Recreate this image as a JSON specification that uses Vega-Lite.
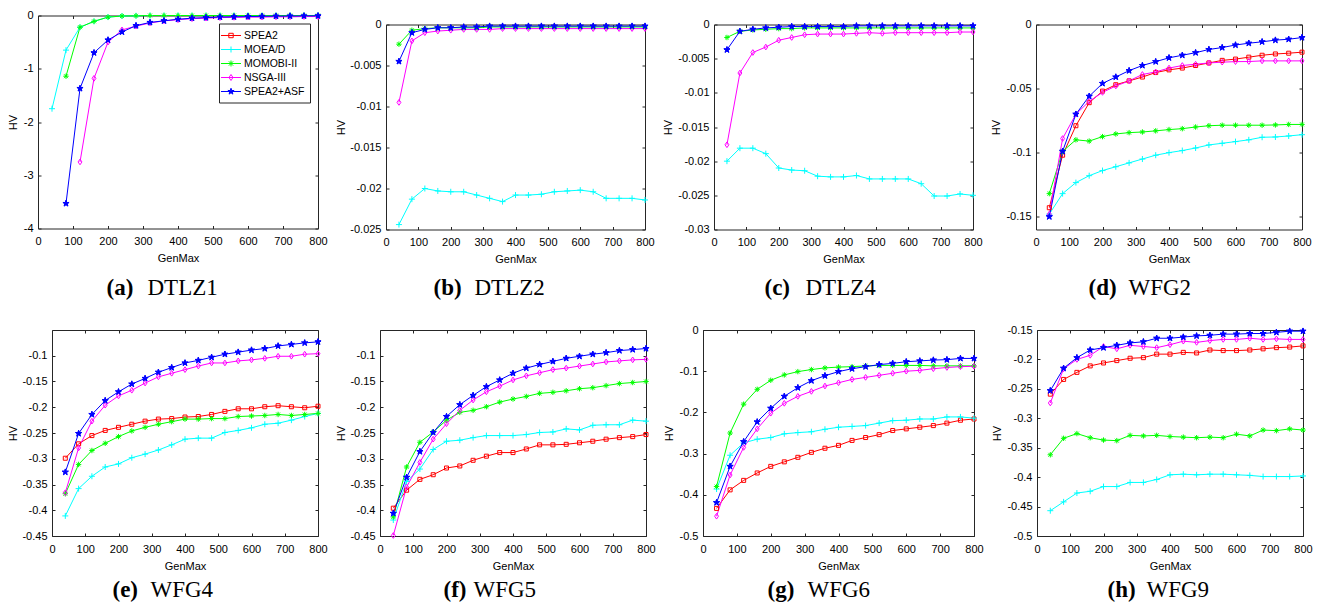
{
"$schema":"https://vega.github.io/schema/vega-lite/v6.json",
"background":"white",
"padding":{"left":7,"top":9.5,"right":0,"bottom":0},
"datasets":{"hv":[
{"p":"a","s":"MOEA/D","x":40,"y":-1.75},{"p":"a","s":"MOEA/D","x":80,"y":-0.65},{"p":"a","s":"MOEA/D","x":120,"y":-0.22},{"p":"a","s":"MOEA/D","x":160,"y":-0.11},{"p":"a","s":"MOEA/D","x":200,"y":-0.03},{"p":"a","s":"MOEA/D","x":240,"y":-0.01},{"p":"a","s":"MOEA/D","x":280,"y":-0.005},{"p":"a","s":"MOEA/D","x":320,"y":0},{"p":"a","s":"MOEA/D","x":360,"y":0},{"p":"a","s":"MOEA/D","x":400,"y":0},{"p":"a","s":"MOEA/D","x":440,"y":0},{"p":"a","s":"MOEA/D","x":480,"y":0},{"p":"a","s":"MOEA/D","x":520,"y":0},{"p":"a","s":"MOEA/D","x":560,"y":0},{"p":"a","s":"MOEA/D","x":600,"y":0},{"p":"a","s":"MOEA/D","x":640,"y":0},{"p":"a","s":"MOEA/D","x":680,"y":0},{"p":"a","s":"MOEA/D","x":720,"y":0},{"p":"a","s":"MOEA/D","x":760,"y":0},{"p":"a","s":"MOEA/D","x":800,"y":0},
{"p":"a","s":"MOMOBI-II","x":80,"y":-1.14},{"p":"a","s":"MOMOBI-II","x":120,"y":-0.22},{"p":"a","s":"MOMOBI-II","x":160,"y":-0.11},{"p":"a","s":"MOMOBI-II","x":200,"y":-0.03},{"p":"a","s":"MOMOBI-II","x":240,"y":-0.01},{"p":"a","s":"MOMOBI-II","x":280,"y":-0.005},{"p":"a","s":"MOMOBI-II","x":320,"y":0},{"p":"a","s":"MOMOBI-II","x":360,"y":0},{"p":"a","s":"MOMOBI-II","x":400,"y":0},{"p":"a","s":"MOMOBI-II","x":440,"y":0},{"p":"a","s":"MOMOBI-II","x":480,"y":0},{"p":"a","s":"MOMOBI-II","x":520,"y":0},{"p":"a","s":"MOMOBI-II","x":560,"y":0},{"p":"a","s":"MOMOBI-II","x":600,"y":0},{"p":"a","s":"MOMOBI-II","x":640,"y":0},{"p":"a","s":"MOMOBI-II","x":680,"y":0},{"p":"a","s":"MOMOBI-II","x":720,"y":0},{"p":"a","s":"MOMOBI-II","x":760,"y":0},{"p":"a","s":"MOMOBI-II","x":800,"y":0},
{"p":"a","s":"NSGA-III","x":120,"y":-2.75},{"p":"a","s":"NSGA-III","x":160,"y":-1.18},{"p":"a","s":"NSGA-III","x":200,"y":-0.5},{"p":"a","s":"NSGA-III","x":240,"y":-0.27},{"p":"a","s":"NSGA-III","x":280,"y":-0.2},{"p":"a","s":"NSGA-III","x":320,"y":-0.14},{"p":"a","s":"NSGA-III","x":360,"y":-0.1},{"p":"a","s":"NSGA-III","x":400,"y":-0.08},{"p":"a","s":"NSGA-III","x":440,"y":-0.06},{"p":"a","s":"NSGA-III","x":480,"y":-0.05},{"p":"a","s":"NSGA-III","x":520,"y":-0.04},{"p":"a","s":"NSGA-III","x":560,"y":-0.035},{"p":"a","s":"NSGA-III","x":600,"y":-0.03},{"p":"a","s":"NSGA-III","x":640,"y":-0.03},{"p":"a","s":"NSGA-III","x":680,"y":-0.025},{"p":"a","s":"NSGA-III","x":720,"y":-0.025},{"p":"a","s":"NSGA-III","x":760,"y":-0.02},{"p":"a","s":"NSGA-III","x":800,"y":-0.02},
{"p":"a","s":"SPEA2+ASF","x":80,"y":-3.53},{"p":"a","s":"SPEA2+ASF","x":120,"y":-1.37},{"p":"a","s":"SPEA2+ASF","x":160,"y":-0.7},{"p":"a","s":"SPEA2+ASF","x":200,"y":-0.46},{"p":"a","s":"SPEA2+ASF","x":240,"y":-0.31},{"p":"a","s":"SPEA2+ASF","x":280,"y":-0.19},{"p":"a","s":"SPEA2+ASF","x":320,"y":-0.13},{"p":"a","s":"SPEA2+ASF","x":360,"y":-0.1},{"p":"a","s":"SPEA2+ASF","x":400,"y":-0.07},{"p":"a","s":"SPEA2+ASF","x":440,"y":-0.05},{"p":"a","s":"SPEA2+ASF","x":480,"y":-0.04},{"p":"a","s":"SPEA2+ASF","x":520,"y":-0.03},{"p":"a","s":"SPEA2+ASF","x":560,"y":-0.025},{"p":"a","s":"SPEA2+ASF","x":600,"y":-0.02},{"p":"a","s":"SPEA2+ASF","x":640,"y":-0.015},{"p":"a","s":"SPEA2+ASF","x":680,"y":-0.012},{"p":"a","s":"SPEA2+ASF","x":720,"y":-0.01},{"p":"a","s":"SPEA2+ASF","x":760,"y":-0.008},{"p":"a","s":"SPEA2+ASF","x":800,"y":-0.006},
{"p":"b","s":"MOEA/D","x":40,"y":-0.0244},{"p":"b","s":"MOEA/D","x":80,"y":-0.0213},{"p":"b","s":"MOEA/D","x":120,"y":-0.02},{"p":"b","s":"MOEA/D","x":160,"y":-0.0203},{"p":"b","s":"MOEA/D","x":200,"y":-0.0204},{"p":"b","s":"MOEA/D","x":240,"y":-0.0204},{"p":"b","s":"MOEA/D","x":280,"y":-0.0208},{"p":"b","s":"MOEA/D","x":320,"y":-0.0212},{"p":"b","s":"MOEA/D","x":360,"y":-0.0216},{"p":"b","s":"MOEA/D","x":400,"y":-0.0208},{"p":"b","s":"MOEA/D","x":440,"y":-0.0208},{"p":"b","s":"MOEA/D","x":480,"y":-0.0207},{"p":"b","s":"MOEA/D","x":520,"y":-0.0204},{"p":"b","s":"MOEA/D","x":560,"y":-0.0203},{"p":"b","s":"MOEA/D","x":600,"y":-0.0202},{"p":"b","s":"MOEA/D","x":640,"y":-0.0204},{"p":"b","s":"MOEA/D","x":680,"y":-0.0212},{"p":"b","s":"MOEA/D","x":720,"y":-0.0212},{"p":"b","s":"MOEA/D","x":760,"y":-0.0212},{"p":"b","s":"MOEA/D","x":800,"y":-0.0214},
{"p":"b","s":"MOMOBI-II","x":40,"y":-0.0024},{"p":"b","s":"MOMOBI-II","x":80,"y":-0.0007},{"p":"b","s":"MOMOBI-II","x":120,"y":-0.0005},{"p":"b","s":"MOMOBI-II","x":160,"y":-0.0004},{"p":"b","s":"MOMOBI-II","x":200,"y":-0.0004},{"p":"b","s":"MOMOBI-II","x":240,"y":-0.0004},{"p":"b","s":"MOMOBI-II","x":280,"y":-0.0004},{"p":"b","s":"MOMOBI-II","x":320,"y":-0.0003},{"p":"b","s":"MOMOBI-II","x":360,"y":-0.0003},{"p":"b","s":"MOMOBI-II","x":400,"y":-0.0003},{"p":"b","s":"MOMOBI-II","x":440,"y":-0.0003},{"p":"b","s":"MOMOBI-II","x":480,"y":-0.0003},{"p":"b","s":"MOMOBI-II","x":520,"y":-0.0003},{"p":"b","s":"MOMOBI-II","x":560,"y":-0.0003},{"p":"b","s":"MOMOBI-II","x":600,"y":-0.0003},{"p":"b","s":"MOMOBI-II","x":640,"y":-0.0003},{"p":"b","s":"MOMOBI-II","x":680,"y":-0.0003},{"p":"b","s":"MOMOBI-II","x":720,"y":-0.0003},{"p":"b","s":"MOMOBI-II","x":760,"y":-0.0003},{"p":"b","s":"MOMOBI-II","x":800,"y":-0.0003},
{"p":"b","s":"NSGA-III","x":40,"y":-0.0095},{"p":"b","s":"NSGA-III","x":80,"y":-0.002},{"p":"b","s":"NSGA-III","x":120,"y":-0.001},{"p":"b","s":"NSGA-III","x":160,"y":-0.0008},{"p":"b","s":"NSGA-III","x":200,"y":-0.0007},{"p":"b","s":"NSGA-III","x":240,"y":-0.0006},{"p":"b","s":"NSGA-III","x":280,"y":-0.0006},{"p":"b","s":"NSGA-III","x":320,"y":-0.0006},{"p":"b","s":"NSGA-III","x":360,"y":-0.0005},{"p":"b","s":"NSGA-III","x":400,"y":-0.0005},{"p":"b","s":"NSGA-III","x":440,"y":-0.0005},{"p":"b","s":"NSGA-III","x":480,"y":-0.0005},{"p":"b","s":"NSGA-III","x":520,"y":-0.0005},{"p":"b","s":"NSGA-III","x":560,"y":-0.0005},{"p":"b","s":"NSGA-III","x":600,"y":-0.0005},{"p":"b","s":"NSGA-III","x":640,"y":-0.0005},{"p":"b","s":"NSGA-III","x":680,"y":-0.0005},{"p":"b","s":"NSGA-III","x":720,"y":-0.0005},{"p":"b","s":"NSGA-III","x":760,"y":-0.0005},{"p":"b","s":"NSGA-III","x":800,"y":-0.0005},
{"p":"b","s":"SPEA2+ASF","x":40,"y":-0.0045},{"p":"b","s":"SPEA2+ASF","x":80,"y":-0.001},{"p":"b","s":"SPEA2+ASF","x":120,"y":-0.0006},{"p":"b","s":"SPEA2+ASF","x":160,"y":-0.0004},{"p":"b","s":"SPEA2+ASF","x":200,"y":-0.0004},{"p":"b","s":"SPEA2+ASF","x":240,"y":-0.0003},{"p":"b","s":"SPEA2+ASF","x":280,"y":-0.0003},{"p":"b","s":"SPEA2+ASF","x":320,"y":-0.0002},{"p":"b","s":"SPEA2+ASF","x":360,"y":-0.0002},{"p":"b","s":"SPEA2+ASF","x":400,"y":-0.0002},{"p":"b","s":"SPEA2+ASF","x":440,"y":-0.0002},{"p":"b","s":"SPEA2+ASF","x":480,"y":-0.0002},{"p":"b","s":"SPEA2+ASF","x":520,"y":-0.0002},{"p":"b","s":"SPEA2+ASF","x":560,"y":-0.0002},{"p":"b","s":"SPEA2+ASF","x":600,"y":-0.0002},{"p":"b","s":"SPEA2+ASF","x":640,"y":-0.0002},{"p":"b","s":"SPEA2+ASF","x":680,"y":-0.0002},{"p":"b","s":"SPEA2+ASF","x":720,"y":-0.0002},{"p":"b","s":"SPEA2+ASF","x":760,"y":-0.0002},{"p":"b","s":"SPEA2+ASF","x":800,"y":-0.0002},
{"p":"c","s":"MOEA/D","x":40,"y":-0.02},{"p":"c","s":"MOEA/D","x":80,"y":-0.0181},{"p":"c","s":"MOEA/D","x":120,"y":-0.0181},{"p":"c","s":"MOEA/D","x":160,"y":-0.0189},{"p":"c","s":"MOEA/D","x":200,"y":-0.021},{"p":"c","s":"MOEA/D","x":240,"y":-0.0213},{"p":"c","s":"MOEA/D","x":280,"y":-0.0214},{"p":"c","s":"MOEA/D","x":320,"y":-0.0222},{"p":"c","s":"MOEA/D","x":360,"y":-0.0223},{"p":"c","s":"MOEA/D","x":400,"y":-0.0223},{"p":"c","s":"MOEA/D","x":440,"y":-0.0221},{"p":"c","s":"MOEA/D","x":480,"y":-0.0226},{"p":"c","s":"MOEA/D","x":520,"y":-0.0226},{"p":"c","s":"MOEA/D","x":560,"y":-0.0226},{"p":"c","s":"MOEA/D","x":600,"y":-0.0226},{"p":"c","s":"MOEA/D","x":640,"y":-0.0233},{"p":"c","s":"MOEA/D","x":680,"y":-0.0251},{"p":"c","s":"MOEA/D","x":720,"y":-0.0251},{"p":"c","s":"MOEA/D","x":760,"y":-0.0248},{"p":"c","s":"MOEA/D","x":800,"y":-0.025},
{"p":"c","s":"MOMOBI-II","x":40,"y":-0.0019},{"p":"c","s":"MOMOBI-II","x":80,"y":-0.001},{"p":"c","s":"MOMOBI-II","x":120,"y":-0.0008},{"p":"c","s":"MOMOBI-II","x":160,"y":-0.0007},{"p":"c","s":"MOMOBI-II","x":200,"y":-0.0006},{"p":"c","s":"MOMOBI-II","x":240,"y":-0.0006},{"p":"c","s":"MOMOBI-II","x":280,"y":-0.0005},{"p":"c","s":"MOMOBI-II","x":320,"y":-0.0005},{"p":"c","s":"MOMOBI-II","x":360,"y":-0.0005},{"p":"c","s":"MOMOBI-II","x":400,"y":-0.0005},{"p":"c","s":"MOMOBI-II","x":440,"y":-0.0005},{"p":"c","s":"MOMOBI-II","x":480,"y":-0.0005},{"p":"c","s":"MOMOBI-II","x":520,"y":-0.0005},{"p":"c","s":"MOMOBI-II","x":560,"y":-0.0005},{"p":"c","s":"MOMOBI-II","x":600,"y":-0.0005},{"p":"c","s":"MOMOBI-II","x":640,"y":-0.0005},{"p":"c","s":"MOMOBI-II","x":680,"y":-0.0005},{"p":"c","s":"MOMOBI-II","x":720,"y":-0.0005},{"p":"c","s":"MOMOBI-II","x":760,"y":-0.0005},{"p":"c","s":"MOMOBI-II","x":800,"y":-0.0005},
{"p":"c","s":"NSGA-III","x":40,"y":-0.0176},{"p":"c","s":"NSGA-III","x":80,"y":-0.0071},{"p":"c","s":"NSGA-III","x":120,"y":-0.0041},{"p":"c","s":"NSGA-III","x":160,"y":-0.0033},{"p":"c","s":"NSGA-III","x":200,"y":-0.0023},{"p":"c","s":"NSGA-III","x":240,"y":-0.0019},{"p":"c","s":"NSGA-III","x":280,"y":-0.0015},{"p":"c","s":"NSGA-III","x":320,"y":-0.0014},{"p":"c","s":"NSGA-III","x":360,"y":-0.0014},{"p":"c","s":"NSGA-III","x":400,"y":-0.0014},{"p":"c","s":"NSGA-III","x":440,"y":-0.0013},{"p":"c","s":"NSGA-III","x":480,"y":-0.0012},{"p":"c","s":"NSGA-III","x":520,"y":-0.0013},{"p":"c","s":"NSGA-III","x":560,"y":-0.0012},{"p":"c","s":"NSGA-III","x":600,"y":-0.0012},{"p":"c","s":"NSGA-III","x":640,"y":-0.0012},{"p":"c","s":"NSGA-III","x":680,"y":-0.0012},{"p":"c","s":"NSGA-III","x":720,"y":-0.0012},{"p":"c","s":"NSGA-III","x":760,"y":-0.0011},{"p":"c","s":"NSGA-III","x":800,"y":-0.0011},
{"p":"c","s":"SPEA2+ASF","x":40,"y":-0.0037},{"p":"c","s":"SPEA2+ASF","x":80,"y":-0.001},{"p":"c","s":"SPEA2+ASF","x":120,"y":-0.0007},{"p":"c","s":"SPEA2+ASF","x":160,"y":-0.0005},{"p":"c","s":"SPEA2+ASF","x":200,"y":-0.0004},{"p":"c","s":"SPEA2+ASF","x":240,"y":-0.0003},{"p":"c","s":"SPEA2+ASF","x":280,"y":-0.0003},{"p":"c","s":"SPEA2+ASF","x":320,"y":-0.0003},{"p":"c","s":"SPEA2+ASF","x":360,"y":-0.0003},{"p":"c","s":"SPEA2+ASF","x":400,"y":-0.0003},{"p":"c","s":"SPEA2+ASF","x":440,"y":-0.0002},{"p":"c","s":"SPEA2+ASF","x":480,"y":-0.0002},{"p":"c","s":"SPEA2+ASF","x":520,"y":-0.0002},{"p":"c","s":"SPEA2+ASF","x":560,"y":-0.0002},{"p":"c","s":"SPEA2+ASF","x":600,"y":-0.0002},{"p":"c","s":"SPEA2+ASF","x":640,"y":-0.0002},{"p":"c","s":"SPEA2+ASF","x":680,"y":-0.0002},{"p":"c","s":"SPEA2+ASF","x":720,"y":-0.0002},{"p":"c","s":"SPEA2+ASF","x":760,"y":-0.0002},{"p":"c","s":"SPEA2+ASF","x":800,"y":-0.0002},
{"p":"d","s":"SPEA2","x":40,"y":-0.143},{"p":"d","s":"SPEA2","x":80,"y":-0.102},{"p":"d","s":"SPEA2","x":120,"y":-0.079},{"p":"d","s":"SPEA2","x":160,"y":-0.061},{"p":"d","s":"SPEA2","x":200,"y":-0.052},{"p":"d","s":"SPEA2","x":240,"y":-0.047},{"p":"d","s":"SPEA2","x":280,"y":-0.044},{"p":"d","s":"SPEA2","x":320,"y":-0.041},{"p":"d","s":"SPEA2","x":360,"y":-0.0375},{"p":"d","s":"SPEA2","x":400,"y":-0.0354},{"p":"d","s":"SPEA2","x":440,"y":-0.034},{"p":"d","s":"SPEA2","x":480,"y":-0.032},{"p":"d","s":"SPEA2","x":520,"y":-0.03},{"p":"d","s":"SPEA2","x":560,"y":-0.028},{"p":"d","s":"SPEA2","x":600,"y":-0.027},{"p":"d","s":"SPEA2","x":640,"y":-0.0255},{"p":"d","s":"SPEA2","x":680,"y":-0.024},{"p":"d","s":"SPEA2","x":720,"y":-0.023},{"p":"d","s":"SPEA2","x":760,"y":-0.0224},{"p":"d","s":"SPEA2","x":800,"y":-0.0216},
{"p":"d","s":"MOEA/D","x":40,"y":-0.148},{"p":"d","s":"MOEA/D","x":80,"y":-0.132},{"p":"d","s":"MOEA/D","x":120,"y":-0.1234},{"p":"d","s":"MOEA/D","x":160,"y":-0.118},{"p":"d","s":"MOEA/D","x":200,"y":-0.114},{"p":"d","s":"MOEA/D","x":240,"y":-0.111},{"p":"d","s":"MOEA/D","x":280,"y":-0.108},{"p":"d","s":"MOEA/D","x":320,"y":-0.105},{"p":"d","s":"MOEA/D","x":360,"y":-0.102},{"p":"d","s":"MOEA/D","x":400,"y":-0.1},{"p":"d","s":"MOEA/D","x":440,"y":-0.0984},{"p":"d","s":"MOEA/D","x":480,"y":-0.0964},{"p":"d","s":"MOEA/D","x":520,"y":-0.094},{"p":"d","s":"MOEA/D","x":560,"y":-0.0927},{"p":"d","s":"MOEA/D","x":600,"y":-0.0914},{"p":"d","s":"MOEA/D","x":640,"y":-0.09},{"p":"d","s":"MOEA/D","x":680,"y":-0.088},{"p":"d","s":"MOEA/D","x":720,"y":-0.0878},{"p":"d","s":"MOEA/D","x":760,"y":-0.087},{"p":"d","s":"MOEA/D","x":800,"y":-0.086},
{"p":"d","s":"MOMOBI-II","x":40,"y":-0.132},{"p":"d","s":"MOMOBI-II","x":80,"y":-0.099},{"p":"d","s":"MOMOBI-II","x":120,"y":-0.09},{"p":"d","s":"MOMOBI-II","x":160,"y":-0.091},{"p":"d","s":"MOMOBI-II","x":200,"y":-0.0875},{"p":"d","s":"MOMOBI-II","x":240,"y":-0.0854},{"p":"d","s":"MOMOBI-II","x":280,"y":-0.0844},{"p":"d","s":"MOMOBI-II","x":320,"y":-0.0839},{"p":"d","s":"MOMOBI-II","x":360,"y":-0.083},{"p":"d","s":"MOMOBI-II","x":400,"y":-0.082},{"p":"d","s":"MOMOBI-II","x":440,"y":-0.0813},{"p":"d","s":"MOMOBI-II","x":480,"y":-0.08},{"p":"d","s":"MOMOBI-II","x":520,"y":-0.079},{"p":"d","s":"MOMOBI-II","x":560,"y":-0.0786},{"p":"d","s":"MOMOBI-II","x":600,"y":-0.0786},{"p":"d","s":"MOMOBI-II","x":640,"y":-0.0786},{"p":"d","s":"MOMOBI-II","x":680,"y":-0.0786},{"p":"d","s":"MOMOBI-II","x":720,"y":-0.0784},{"p":"d","s":"MOMOBI-II","x":760,"y":-0.078},{"p":"d","s":"MOMOBI-II","x":800,"y":-0.078},
{"p":"d","s":"NSGA-III","x":40,"y":-0.148},{"p":"d","s":"NSGA-III","x":80,"y":-0.089},{"p":"d","s":"NSGA-III","x":120,"y":-0.07},{"p":"d","s":"NSGA-III","x":160,"y":-0.06},{"p":"d","s":"NSGA-III","x":200,"y":-0.053},{"p":"d","s":"NSGA-III","x":240,"y":-0.048},{"p":"d","s":"NSGA-III","x":280,"y":-0.044},{"p":"d","s":"NSGA-III","x":320,"y":-0.039},{"p":"d","s":"NSGA-III","x":360,"y":-0.037},{"p":"d","s":"NSGA-III","x":400,"y":-0.034},{"p":"d","s":"NSGA-III","x":440,"y":-0.032},{"p":"d","s":"NSGA-III","x":480,"y":-0.031},{"p":"d","s":"NSGA-III","x":520,"y":-0.03},{"p":"d","s":"NSGA-III","x":560,"y":-0.0294},{"p":"d","s":"NSGA-III","x":600,"y":-0.029},{"p":"d","s":"NSGA-III","x":640,"y":-0.0289},{"p":"d","s":"NSGA-III","x":680,"y":-0.0284},{"p":"d","s":"NSGA-III","x":720,"y":-0.0284},{"p":"d","s":"NSGA-III","x":760,"y":-0.0284},{"p":"d","s":"NSGA-III","x":800,"y":-0.0284},
{"p":"d","s":"SPEA2+ASF","x":40,"y":-0.15},{"p":"d","s":"SPEA2+ASF","x":80,"y":-0.099},{"p":"d","s":"SPEA2+ASF","x":120,"y":-0.07},{"p":"d","s":"SPEA2+ASF","x":160,"y":-0.056},{"p":"d","s":"SPEA2+ASF","x":200,"y":-0.046},{"p":"d","s":"SPEA2+ASF","x":240,"y":-0.041},{"p":"d","s":"SPEA2+ASF","x":280,"y":-0.036},{"p":"d","s":"SPEA2+ASF","x":320,"y":-0.032},{"p":"d","s":"SPEA2+ASF","x":360,"y":-0.029},{"p":"d","s":"SPEA2+ASF","x":400,"y":-0.026},{"p":"d","s":"SPEA2+ASF","x":440,"y":-0.024},{"p":"d","s":"SPEA2+ASF","x":480,"y":-0.022},{"p":"d","s":"SPEA2+ASF","x":520,"y":-0.0195},{"p":"d","s":"SPEA2+ASF","x":560,"y":-0.018},{"p":"d","s":"SPEA2+ASF","x":600,"y":-0.016},{"p":"d","s":"SPEA2+ASF","x":640,"y":-0.0146},{"p":"d","s":"SPEA2+ASF","x":680,"y":-0.0135},{"p":"d","s":"SPEA2+ASF","x":720,"y":-0.0122},{"p":"d","s":"SPEA2+ASF","x":760,"y":-0.0115},{"p":"d","s":"SPEA2+ASF","x":800,"y":-0.0102},
{"p":"e","s":"SPEA2","x":40,"y":-0.299},{"p":"e","s":"SPEA2","x":80,"y":-0.271},{"p":"e","s":"SPEA2","x":120,"y":-0.255},{"p":"e","s":"SPEA2","x":160,"y":-0.245},{"p":"e","s":"SPEA2","x":200,"y":-0.239},{"p":"e","s":"SPEA2","x":240,"y":-0.233},{"p":"e","s":"SPEA2","x":280,"y":-0.227},{"p":"e","s":"SPEA2","x":320,"y":-0.223},{"p":"e","s":"SPEA2","x":360,"y":-0.222},{"p":"e","s":"SPEA2","x":400,"y":-0.219},{"p":"e","s":"SPEA2","x":440,"y":-0.218},{"p":"e","s":"SPEA2","x":480,"y":-0.214},{"p":"e","s":"SPEA2","x":520,"y":-0.208},{"p":"e","s":"SPEA2","x":560,"y":-0.203},{"p":"e","s":"SPEA2","x":600,"y":-0.203},{"p":"e","s":"SPEA2","x":640,"y":-0.199},{"p":"e","s":"SPEA2","x":680,"y":-0.197},{"p":"e","s":"SPEA2","x":720,"y":-0.199},{"p":"e","s":"SPEA2","x":760,"y":-0.201},{"p":"e","s":"SPEA2","x":800,"y":-0.198},
{"p":"e","s":"MOEA/D","x":40,"y":-0.411},{"p":"e","s":"MOEA/D","x":80,"y":-0.358},{"p":"e","s":"MOEA/D","x":120,"y":-0.334},{"p":"e","s":"MOEA/D","x":160,"y":-0.316},{"p":"e","s":"MOEA/D","x":200,"y":-0.31},{"p":"e","s":"MOEA/D","x":240,"y":-0.298},{"p":"e","s":"MOEA/D","x":280,"y":-0.291},{"p":"e","s":"MOEA/D","x":320,"y":-0.283},{"p":"e","s":"MOEA/D","x":360,"y":-0.273},{"p":"e","s":"MOEA/D","x":400,"y":-0.262},{"p":"e","s":"MOEA/D","x":440,"y":-0.26},{"p":"e","s":"MOEA/D","x":480,"y":-0.26},{"p":"e","s":"MOEA/D","x":520,"y":-0.249},{"p":"e","s":"MOEA/D","x":560,"y":-0.245},{"p":"e","s":"MOEA/D","x":600,"y":-0.24},{"p":"e","s":"MOEA/D","x":640,"y":-0.233},{"p":"e","s":"MOEA/D","x":680,"y":-0.231},{"p":"e","s":"MOEA/D","x":720,"y":-0.225},{"p":"e","s":"MOEA/D","x":760,"y":-0.218},{"p":"e","s":"MOEA/D","x":800,"y":-0.212},
{"p":"e","s":"MOMOBI-II","x":40,"y":-0.368},{"p":"e","s":"MOMOBI-II","x":80,"y":-0.311},{"p":"e","s":"MOMOBI-II","x":120,"y":-0.284},{"p":"e","s":"MOMOBI-II","x":160,"y":-0.27},{"p":"e","s":"MOMOBI-II","x":200,"y":-0.257},{"p":"e","s":"MOMOBI-II","x":240,"y":-0.246},{"p":"e","s":"MOMOBI-II","x":280,"y":-0.239},{"p":"e","s":"MOMOBI-II","x":320,"y":-0.233},{"p":"e","s":"MOMOBI-II","x":360,"y":-0.228},{"p":"e","s":"MOMOBI-II","x":400,"y":-0.223},{"p":"e","s":"MOMOBI-II","x":440,"y":-0.223},{"p":"e","s":"MOMOBI-II","x":480,"y":-0.222},{"p":"e","s":"MOMOBI-II","x":520,"y":-0.222},{"p":"e","s":"MOMOBI-II","x":560,"y":-0.218},{"p":"e","s":"MOMOBI-II","x":600,"y":-0.217},{"p":"e","s":"MOMOBI-II","x":640,"y":-0.216},{"p":"e","s":"MOMOBI-II","x":680,"y":-0.214},{"p":"e","s":"MOMOBI-II","x":720,"y":-0.216},{"p":"e","s":"MOMOBI-II","x":760,"y":-0.214},{"p":"e","s":"MOMOBI-II","x":800,"y":-0.212},
{"p":"e","s":"NSGA-III","x":40,"y":-0.366},{"p":"e","s":"NSGA-III","x":80,"y":-0.279},{"p":"e","s":"NSGA-III","x":120,"y":-0.227},{"p":"e","s":"NSGA-III","x":160,"y":-0.196},{"p":"e","s":"NSGA-III","x":200,"y":-0.178},{"p":"e","s":"NSGA-III","x":240,"y":-0.167},{"p":"e","s":"NSGA-III","x":280,"y":-0.153},{"p":"e","s":"NSGA-III","x":320,"y":-0.141},{"p":"e","s":"NSGA-III","x":360,"y":-0.134},{"p":"e","s":"NSGA-III","x":400,"y":-0.127},{"p":"e","s":"NSGA-III","x":440,"y":-0.12},{"p":"e","s":"NSGA-III","x":480,"y":-0.114},{"p":"e","s":"NSGA-III","x":520,"y":-0.114},{"p":"e","s":"NSGA-III","x":560,"y":-0.11},{"p":"e","s":"NSGA-III","x":600,"y":-0.108},{"p":"e","s":"NSGA-III","x":640,"y":-0.105},{"p":"e","s":"NSGA-III","x":680,"y":-0.101},{"p":"e","s":"NSGA-III","x":720,"y":-0.101},{"p":"e","s":"NSGA-III","x":760,"y":-0.097},{"p":"e","s":"NSGA-III","x":800,"y":-0.096},
{"p":"e","s":"SPEA2+ASF","x":40,"y":-0.326},{"p":"e","s":"SPEA2+ASF","x":80,"y":-0.251},{"p":"e","s":"SPEA2+ASF","x":120,"y":-0.214},{"p":"e","s":"SPEA2+ASF","x":160,"y":-0.187},{"p":"e","s":"SPEA2+ASF","x":200,"y":-0.17},{"p":"e","s":"SPEA2+ASF","x":240,"y":-0.155},{"p":"e","s":"SPEA2+ASF","x":280,"y":-0.144},{"p":"e","s":"SPEA2+ASF","x":320,"y":-0.132},{"p":"e","s":"SPEA2+ASF","x":360,"y":-0.123},{"p":"e","s":"SPEA2+ASF","x":400,"y":-0.114},{"p":"e","s":"SPEA2+ASF","x":440,"y":-0.109},{"p":"e","s":"SPEA2+ASF","x":480,"y":-0.103},{"p":"e","s":"SPEA2+ASF","x":520,"y":-0.097},{"p":"e","s":"SPEA2+ASF","x":560,"y":-0.093},{"p":"e","s":"SPEA2+ASF","x":600,"y":-0.089},{"p":"e","s":"SPEA2+ASF","x":640,"y":-0.086},{"p":"e","s":"SPEA2+ASF","x":680,"y":-0.081},{"p":"e","s":"SPEA2+ASF","x":720,"y":-0.078},{"p":"e","s":"SPEA2+ASF","x":760,"y":-0.075},{"p":"e","s":"SPEA2+ASF","x":800,"y":-0.073},
{"p":"f","s":"SPEA2","x":40,"y":-0.396},{"p":"f","s":"SPEA2","x":80,"y":-0.361},{"p":"f","s":"SPEA2","x":120,"y":-0.34},{"p":"f","s":"SPEA2","x":160,"y":-0.331},{"p":"f","s":"SPEA2","x":200,"y":-0.318},{"p":"f","s":"SPEA2","x":240,"y":-0.314},{"p":"f","s":"SPEA2","x":280,"y":-0.303},{"p":"f","s":"SPEA2","x":320,"y":-0.295},{"p":"f","s":"SPEA2","x":360,"y":-0.288},{"p":"f","s":"SPEA2","x":400,"y":-0.288},{"p":"f","s":"SPEA2","x":440,"y":-0.281},{"p":"f","s":"SPEA2","x":480,"y":-0.273},{"p":"f","s":"SPEA2","x":520,"y":-0.273},{"p":"f","s":"SPEA2","x":560,"y":-0.272},{"p":"f","s":"SPEA2","x":600,"y":-0.269},{"p":"f","s":"SPEA2","x":640,"y":-0.266},{"p":"f","s":"SPEA2","x":680,"y":-0.262},{"p":"f","s":"SPEA2","x":720,"y":-0.259},{"p":"f","s":"SPEA2","x":760,"y":-0.257},{"p":"f","s":"SPEA2","x":800,"y":-0.253},
{"p":"f","s":"MOEA/D","x":40,"y":-0.419},{"p":"f","s":"MOEA/D","x":80,"y":-0.344},{"p":"f","s":"MOEA/D","x":120,"y":-0.32},{"p":"f","s":"MOEA/D","x":160,"y":-0.282},{"p":"f","s":"MOEA/D","x":200,"y":-0.266},{"p":"f","s":"MOEA/D","x":240,"y":-0.264},{"p":"f","s":"MOEA/D","x":280,"y":-0.259},{"p":"f","s":"MOEA/D","x":320,"y":-0.255},{"p":"f","s":"MOEA/D","x":360,"y":-0.255},{"p":"f","s":"MOEA/D","x":400,"y":-0.255},{"p":"f","s":"MOEA/D","x":440,"y":-0.253},{"p":"f","s":"MOEA/D","x":480,"y":-0.249},{"p":"f","s":"MOEA/D","x":520,"y":-0.248},{"p":"f","s":"MOEA/D","x":560,"y":-0.242},{"p":"f","s":"MOEA/D","x":600,"y":-0.244},{"p":"f","s":"MOEA/D","x":640,"y":-0.235},{"p":"f","s":"MOEA/D","x":680,"y":-0.234},{"p":"f","s":"MOEA/D","x":720,"y":-0.234},{"p":"f","s":"MOEA/D","x":760,"y":-0.225},{"p":"f","s":"MOEA/D","x":800,"y":-0.227},
{"p":"f","s":"MOMOBI-II","x":40,"y":-0.413},{"p":"f","s":"MOMOBI-II","x":80,"y":-0.316},{"p":"f","s":"MOMOBI-II","x":120,"y":-0.268},{"p":"f","s":"MOMOBI-II","x":160,"y":-0.248},{"p":"f","s":"MOMOBI-II","x":200,"y":-0.225},{"p":"f","s":"MOMOBI-II","x":240,"y":-0.21},{"p":"f","s":"MOMOBI-II","x":280,"y":-0.206},{"p":"f","s":"MOMOBI-II","x":320,"y":-0.199},{"p":"f","s":"MOMOBI-II","x":360,"y":-0.19},{"p":"f","s":"MOMOBI-II","x":400,"y":-0.184},{"p":"f","s":"MOMOBI-II","x":440,"y":-0.179},{"p":"f","s":"MOMOBI-II","x":480,"y":-0.173},{"p":"f","s":"MOMOBI-II","x":520,"y":-0.171},{"p":"f","s":"MOMOBI-II","x":560,"y":-0.168},{"p":"f","s":"MOMOBI-II","x":600,"y":-0.164},{"p":"f","s":"MOMOBI-II","x":640,"y":-0.162},{"p":"f","s":"MOMOBI-II","x":680,"y":-0.158},{"p":"f","s":"MOMOBI-II","x":720,"y":-0.154},{"p":"f","s":"MOMOBI-II","x":760,"y":-0.152},{"p":"f","s":"MOMOBI-II","x":800,"y":-0.15},
{"p":"f","s":"NSGA-III","x":40,"y":-0.449},{"p":"f","s":"NSGA-III","x":80,"y":-0.355},{"p":"f","s":"NSGA-III","x":120,"y":-0.307},{"p":"f","s":"NSGA-III","x":160,"y":-0.262},{"p":"f","s":"NSGA-III","x":200,"y":-0.232},{"p":"f","s":"NSGA-III","x":240,"y":-0.206},{"p":"f","s":"NSGA-III","x":280,"y":-0.186},{"p":"f","s":"NSGA-III","x":320,"y":-0.17},{"p":"f","s":"NSGA-III","x":360,"y":-0.159},{"p":"f","s":"NSGA-III","x":400,"y":-0.147},{"p":"f","s":"NSGA-III","x":440,"y":-0.139},{"p":"f","s":"NSGA-III","x":480,"y":-0.133},{"p":"f","s":"NSGA-III","x":520,"y":-0.127},{"p":"f","s":"NSGA-III","x":560,"y":-0.124},{"p":"f","s":"NSGA-III","x":600,"y":-0.12},{"p":"f","s":"NSGA-III","x":640,"y":-0.116},{"p":"f","s":"NSGA-III","x":680,"y":-0.112},{"p":"f","s":"NSGA-III","x":720,"y":-0.11},{"p":"f","s":"NSGA-III","x":760,"y":-0.108},{"p":"f","s":"NSGA-III","x":800,"y":-0.107},
{"p":"f","s":"SPEA2+ASF","x":40,"y":-0.406},{"p":"f","s":"SPEA2+ASF","x":80,"y":-0.336},{"p":"f","s":"SPEA2+ASF","x":120,"y":-0.286},{"p":"f","s":"SPEA2+ASF","x":160,"y":-0.249},{"p":"f","s":"SPEA2+ASF","x":200,"y":-0.218},{"p":"f","s":"SPEA2+ASF","x":240,"y":-0.195},{"p":"f","s":"SPEA2+ASF","x":280,"y":-0.177},{"p":"f","s":"SPEA2+ASF","x":320,"y":-0.16},{"p":"f","s":"SPEA2+ASF","x":360,"y":-0.147},{"p":"f","s":"SPEA2+ASF","x":400,"y":-0.134},{"p":"f","s":"SPEA2+ASF","x":440,"y":-0.124},{"p":"f","s":"SPEA2+ASF","x":480,"y":-0.117},{"p":"f","s":"SPEA2+ASF","x":520,"y":-0.111},{"p":"f","s":"SPEA2+ASF","x":560,"y":-0.105},{"p":"f","s":"SPEA2+ASF","x":600,"y":-0.101},{"p":"f","s":"SPEA2+ASF","x":640,"y":-0.097},{"p":"f","s":"SPEA2+ASF","x":680,"y":-0.094},{"p":"f","s":"SPEA2+ASF","x":720,"y":-0.09},{"p":"f","s":"SPEA2+ASF","x":760,"y":-0.088},{"p":"f","s":"SPEA2+ASF","x":800,"y":-0.086},
{"p":"g","s":"SPEA2","x":40,"y":-0.433},{"p":"g","s":"SPEA2","x":80,"y":-0.388},{"p":"g","s":"SPEA2","x":120,"y":-0.365},{"p":"g","s":"SPEA2","x":160,"y":-0.347},{"p":"g","s":"SPEA2","x":200,"y":-0.331},{"p":"g","s":"SPEA2","x":240,"y":-0.32},{"p":"g","s":"SPEA2","x":280,"y":-0.309},{"p":"g","s":"SPEA2","x":320,"y":-0.297},{"p":"g","s":"SPEA2","x":360,"y":-0.287},{"p":"g","s":"SPEA2","x":400,"y":-0.28},{"p":"g","s":"SPEA2","x":440,"y":-0.268},{"p":"g","s":"SPEA2","x":480,"y":-0.261},{"p":"g","s":"SPEA2","x":520,"y":-0.254},{"p":"g","s":"SPEA2","x":560,"y":-0.244},{"p":"g","s":"SPEA2","x":600,"y":-0.24},{"p":"g","s":"SPEA2","x":640,"y":-0.236},{"p":"g","s":"SPEA2","x":680,"y":-0.232},{"p":"g","s":"SPEA2","x":720,"y":-0.226},{"p":"g","s":"SPEA2","x":760,"y":-0.219},{"p":"g","s":"SPEA2","x":800,"y":-0.216},
{"p":"g","s":"MOEA/D","x":40,"y":-0.386},{"p":"g","s":"MOEA/D","x":80,"y":-0.304},{"p":"g","s":"MOEA/D","x":120,"y":-0.274},{"p":"g","s":"MOEA/D","x":160,"y":-0.265},{"p":"g","s":"MOEA/D","x":200,"y":-0.261},{"p":"g","s":"MOEA/D","x":240,"y":-0.252},{"p":"g","s":"MOEA/D","x":280,"y":-0.249},{"p":"g","s":"MOEA/D","x":320,"y":-0.247},{"p":"g","s":"MOEA/D","x":360,"y":-0.241},{"p":"g","s":"MOEA/D","x":400,"y":-0.236},{"p":"g","s":"MOEA/D","x":440,"y":-0.234},{"p":"g","s":"MOEA/D","x":480,"y":-0.232},{"p":"g","s":"MOEA/D","x":520,"y":-0.226},{"p":"g","s":"MOEA/D","x":560,"y":-0.22},{"p":"g","s":"MOEA/D","x":600,"y":-0.219},{"p":"g","s":"MOEA/D","x":640,"y":-0.216},{"p":"g","s":"MOEA/D","x":680,"y":-0.216},{"p":"g","s":"MOEA/D","x":720,"y":-0.211},{"p":"g","s":"MOEA/D","x":760,"y":-0.211},{"p":"g","s":"MOEA/D","x":800,"y":-0.214},
{"p":"g","s":"MOMOBI-II","x":40,"y":-0.38},{"p":"g","s":"MOMOBI-II","x":80,"y":-0.25},{"p":"g","s":"MOMOBI-II","x":120,"y":-0.18},{"p":"g","s":"MOMOBI-II","x":160,"y":-0.144},{"p":"g","s":"MOMOBI-II","x":200,"y":-0.122},{"p":"g","s":"MOMOBI-II","x":240,"y":-0.109},{"p":"g","s":"MOMOBI-II","x":280,"y":-0.101},{"p":"g","s":"MOMOBI-II","x":320,"y":-0.096},{"p":"g","s":"MOMOBI-II","x":360,"y":-0.092},{"p":"g","s":"MOMOBI-II","x":400,"y":-0.09},{"p":"g","s":"MOMOBI-II","x":440,"y":-0.089},{"p":"g","s":"MOMOBI-II","x":480,"y":-0.087},{"p":"g","s":"MOMOBI-II","x":520,"y":-0.086},{"p":"g","s":"MOMOBI-II","x":560,"y":-0.086},{"p":"g","s":"MOMOBI-II","x":600,"y":-0.086},{"p":"g","s":"MOMOBI-II","x":640,"y":-0.086},{"p":"g","s":"MOMOBI-II","x":680,"y":-0.087},{"p":"g","s":"MOMOBI-II","x":720,"y":-0.087},{"p":"g","s":"MOMOBI-II","x":760,"y":-0.087},{"p":"g","s":"MOMOBI-II","x":800,"y":-0.087},
{"p":"g","s":"NSGA-III","x":40,"y":-0.452},{"p":"g","s":"NSGA-III","x":80,"y":-0.352},{"p":"g","s":"NSGA-III","x":120,"y":-0.285},{"p":"g","s":"NSGA-III","x":160,"y":-0.24},{"p":"g","s":"NSGA-III","x":200,"y":-0.202},{"p":"g","s":"NSGA-III","x":240,"y":-0.178},{"p":"g","s":"NSGA-III","x":280,"y":-0.161},{"p":"g","s":"NSGA-III","x":320,"y":-0.149},{"p":"g","s":"NSGA-III","x":360,"y":-0.136},{"p":"g","s":"NSGA-III","x":400,"y":-0.128},{"p":"g","s":"NSGA-III","x":440,"y":-0.12},{"p":"g","s":"NSGA-III","x":480,"y":-0.115},{"p":"g","s":"NSGA-III","x":520,"y":-0.11},{"p":"g","s":"NSGA-III","x":560,"y":-0.105},{"p":"g","s":"NSGA-III","x":600,"y":-0.1},{"p":"g","s":"NSGA-III","x":640,"y":-0.098},{"p":"g","s":"NSGA-III","x":680,"y":-0.094},{"p":"g","s":"NSGA-III","x":720,"y":-0.091},{"p":"g","s":"NSGA-III","x":760,"y":-0.089},{"p":"g","s":"NSGA-III","x":800,"y":-0.088},
{"p":"g","s":"SPEA2+ASF","x":40,"y":-0.419},{"p":"g","s":"SPEA2+ASF","x":80,"y":-0.331},{"p":"g","s":"SPEA2+ASF","x":120,"y":-0.271},{"p":"g","s":"SPEA2+ASF","x":160,"y":-0.223},{"p":"g","s":"SPEA2+ASF","x":200,"y":-0.19},{"p":"g","s":"SPEA2+ASF","x":240,"y":-0.161},{"p":"g","s":"SPEA2+ASF","x":280,"y":-0.14},{"p":"g","s":"SPEA2+ASF","x":320,"y":-0.123},{"p":"g","s":"SPEA2+ASF","x":360,"y":-0.111},{"p":"g","s":"SPEA2+ASF","x":400,"y":-0.101},{"p":"g","s":"SPEA2+ASF","x":440,"y":-0.094},{"p":"g","s":"SPEA2+ASF","x":480,"y":-0.089},{"p":"g","s":"SPEA2+ASF","x":520,"y":-0.084},{"p":"g","s":"SPEA2+ASF","x":560,"y":-0.081},{"p":"g","s":"SPEA2+ASF","x":600,"y":-0.077},{"p":"g","s":"SPEA2+ASF","x":640,"y":-0.075},{"p":"g","s":"SPEA2+ASF","x":680,"y":-0.073},{"p":"g","s":"SPEA2+ASF","x":720,"y":-0.072},{"p":"g","s":"SPEA2+ASF","x":760,"y":-0.069},{"p":"g","s":"SPEA2+ASF","x":800,"y":-0.069},
{"p":"h","s":"SPEA2","x":40,"y":-0.259},{"p":"h","s":"SPEA2","x":80,"y":-0.234},{"p":"h","s":"SPEA2","x":120,"y":-0.222},{"p":"h","s":"SPEA2","x":160,"y":-0.211},{"p":"h","s":"SPEA2","x":200,"y":-0.206},{"p":"h","s":"SPEA2","x":240,"y":-0.202},{"p":"h","s":"SPEA2","x":280,"y":-0.198},{"p":"h","s":"SPEA2","x":320,"y":-0.197},{"p":"h","s":"SPEA2","x":360,"y":-0.191},{"p":"h","s":"SPEA2","x":400,"y":-0.191},{"p":"h","s":"SPEA2","x":440,"y":-0.188},{"p":"h","s":"SPEA2","x":480,"y":-0.189},{"p":"h","s":"SPEA2","x":520,"y":-0.184},{"p":"h","s":"SPEA2","x":560,"y":-0.185},{"p":"h","s":"SPEA2","x":600,"y":-0.185},{"p":"h","s":"SPEA2","x":640,"y":-0.184},{"p":"h","s":"SPEA2","x":680,"y":-0.182},{"p":"h","s":"SPEA2","x":720,"y":-0.18},{"p":"h","s":"SPEA2","x":760,"y":-0.179},{"p":"h","s":"SPEA2","x":800,"y":-0.177},
{"p":"h","s":"MOEA/D","x":40,"y":-0.457},{"p":"h","s":"MOEA/D","x":80,"y":-0.442},{"p":"h","s":"MOEA/D","x":120,"y":-0.427},{"p":"h","s":"MOEA/D","x":160,"y":-0.424},{"p":"h","s":"MOEA/D","x":200,"y":-0.416},{"p":"h","s":"MOEA/D","x":240,"y":-0.416},{"p":"h","s":"MOEA/D","x":280,"y":-0.409},{"p":"h","s":"MOEA/D","x":320,"y":-0.409},{"p":"h","s":"MOEA/D","x":360,"y":-0.404},{"p":"h","s":"MOEA/D","x":400,"y":-0.396},{"p":"h","s":"MOEA/D","x":440,"y":-0.395},{"p":"h","s":"MOEA/D","x":480,"y":-0.396},{"p":"h","s":"MOEA/D","x":520,"y":-0.395},{"p":"h","s":"MOEA/D","x":560,"y":-0.395},{"p":"h","s":"MOEA/D","x":600,"y":-0.396},{"p":"h","s":"MOEA/D","x":640,"y":-0.397},{"p":"h","s":"MOEA/D","x":680,"y":-0.399},{"p":"h","s":"MOEA/D","x":720,"y":-0.399},{"p":"h","s":"MOEA/D","x":760,"y":-0.399},{"p":"h","s":"MOEA/D","x":800,"y":-0.398},
{"p":"h","s":"MOMOBI-II","x":40,"y":-0.362},{"p":"h","s":"MOMOBI-II","x":80,"y":-0.334},{"p":"h","s":"MOMOBI-II","x":120,"y":-0.326},{"p":"h","s":"MOMOBI-II","x":160,"y":-0.333},{"p":"h","s":"MOMOBI-II","x":200,"y":-0.337},{"p":"h","s":"MOMOBI-II","x":240,"y":-0.338},{"p":"h","s":"MOMOBI-II","x":280,"y":-0.329},{"p":"h","s":"MOMOBI-II","x":320,"y":-0.33},{"p":"h","s":"MOMOBI-II","x":360,"y":-0.329},{"p":"h","s":"MOMOBI-II","x":400,"y":-0.331},{"p":"h","s":"MOMOBI-II","x":440,"y":-0.332},{"p":"h","s":"MOMOBI-II","x":480,"y":-0.333},{"p":"h","s":"MOMOBI-II","x":520,"y":-0.332},{"p":"h","s":"MOMOBI-II","x":560,"y":-0.333},{"p":"h","s":"MOMOBI-II","x":600,"y":-0.327},{"p":"h","s":"MOMOBI-II","x":640,"y":-0.33},{"p":"h","s":"MOMOBI-II","x":680,"y":-0.32},{"p":"h","s":"MOMOBI-II","x":720,"y":-0.321},{"p":"h","s":"MOMOBI-II","x":760,"y":-0.318},{"p":"h","s":"MOMOBI-II","x":800,"y":-0.32},
{"p":"h","s":"NSGA-III","x":40,"y":-0.274},{"p":"h","s":"NSGA-III","x":80,"y":-0.216},{"p":"h","s":"NSGA-III","x":120,"y":-0.2},{"p":"h","s":"NSGA-III","x":160,"y":-0.193},{"p":"h","s":"NSGA-III","x":200,"y":-0.178},{"p":"h","s":"NSGA-III","x":240,"y":-0.182},{"p":"h","s":"NSGA-III","x":280,"y":-0.176},{"p":"h","s":"NSGA-III","x":320,"y":-0.178},{"p":"h","s":"NSGA-III","x":360,"y":-0.18},{"p":"h","s":"NSGA-III","x":400,"y":-0.175},{"p":"h","s":"NSGA-III","x":440,"y":-0.169},{"p":"h","s":"NSGA-III","x":480,"y":-0.171},{"p":"h","s":"NSGA-III","x":520,"y":-0.168},{"p":"h","s":"NSGA-III","x":560,"y":-0.166},{"p":"h","s":"NSGA-III","x":600,"y":-0.166},{"p":"h","s":"NSGA-III","x":640,"y":-0.164},{"p":"h","s":"NSGA-III","x":680,"y":-0.166},{"p":"h","s":"NSGA-III","x":720,"y":-0.165},{"p":"h","s":"NSGA-III","x":760,"y":-0.166},{"p":"h","s":"NSGA-III","x":800,"y":-0.166},
{"p":"h","s":"SPEA2+ASF","x":40,"y":-0.253},{"p":"h","s":"SPEA2+ASF","x":80,"y":-0.215},{"p":"h","s":"SPEA2+ASF","x":120,"y":-0.197},{"p":"h","s":"SPEA2+ASF","x":160,"y":-0.184},{"p":"h","s":"SPEA2+ASF","x":200,"y":-0.18},{"p":"h","s":"SPEA2+ASF","x":240,"y":-0.176},{"p":"h","s":"SPEA2+ASF","x":280,"y":-0.172},{"p":"h","s":"SPEA2+ASF","x":320,"y":-0.17},{"p":"h","s":"SPEA2+ASF","x":360,"y":-0.164},{"p":"h","s":"SPEA2+ASF","x":400,"y":-0.164},{"p":"h","s":"SPEA2+ASF","x":440,"y":-0.162},{"p":"h","s":"SPEA2+ASF","x":480,"y":-0.16},{"p":"h","s":"SPEA2+ASF","x":520,"y":-0.159},{"p":"h","s":"SPEA2+ASF","x":560,"y":-0.157},{"p":"h","s":"SPEA2+ASF","x":600,"y":-0.157},{"p":"h","s":"SPEA2+ASF","x":640,"y":-0.156},{"p":"h","s":"SPEA2+ASF","x":680,"y":-0.156},{"p":"h","s":"SPEA2+ASF","x":720,"y":-0.154},{"p":"h","s":"SPEA2+ASF","x":760,"y":-0.152},{"p":"h","s":"SPEA2+ASF","x":800,"y":-0.152}
]},
"data":{"name":"hv"},
"spacing":24.5,
"resolve":{"scale":{"color":"independent","shape":"independent"},"legend":{"color":"independent","shape":"independent"}},
"vconcat":[
{"spacing":7,
"resolve":{"scale":{"color":"independent","shape":"independent"},"legend":{"color":"independent","shape":"independent"}},
"hconcat":[
{"width":280,"height":213,
"transform":[{"filter":"datum.p==='a'"}],
"layer":[
{"mark":{"type":"line","strokeWidth":1},"encoding":{
"x":{"field":"x","type":"quantitative","scale":{"domain":[0,800],"nice":false,"zero":false},"axis":{"orient":"bottom","title":"GenMax","values":[0,100,200,300,400,500,600,700,800],"tickSize":-3,"labelPadding":10,"labelFlush":false,"labelOverlap":false,"minExtent":18,"maxExtent":18,"titlePadding":6}},
"y":{"field":"y","type":"quantitative","scale":{"domain":[-4,0],"nice":false,"zero":false},"axis":{"orient":"left","title":"HV","values":[-4,-3,-2,-1,0],"format":"~g","tickSize":-3,"labelPadding":8,"labelOverlap":false,"minExtent":15,"maxExtent":15,"titlePadding":5}},
"color":{"field":"s","type":"nominal","scale":{"domain":["SPEA2","MOEA/D","MOMOBI-II","NSGA-III","SPEA2+ASF"],"range":["#FF0000","#00FFFF","#00FF00","#FF00FF","#0000FF"]},
"legend":{"orient":"top-right","offset":8,"title":null,"fillColor":"white","strokeColor":"#262626","padding":5,"labelFont":"Liberation Sans","labelFontSize":10.5,"labelColor":"#000","rowPadding":1,"symbolSize":169,"symbolType":"M-1.54,0L1.54,0","symbolStrokeWidth":1,"labelOffset":6,"labelLimit":200,
"encode":{"symbols":{"update":{"shape":{"signal":"datum.value==='SPEA2' ? 'M-1.54,0L1.54,0M-0.34,-0.34L0.34,-0.34L0.34,0.34L-0.34,0.34Z' : datum.value==='MOEA/D' ? 'M-1.54,0L1.54,0M0,-0.46L0,0.46' : datum.value==='MOMOBI-II' ? 'M-1.54,0L1.54,0M0,-0.46L0,0.46M-0.33,-0.33L0.33,0.33M-0.33,0.33L0.33,-0.33' : datum.value==='NSGA-III' ? 'M-1.54,0L1.54,0M0,-0.46L0.31,0L0,0.46L-0.31,0Z' : 'M-1.54,0L1.54,0M0,-0.5L0.112,-0.155L0.476,-0.155L0.182,0.059L0.294,0.405L0,0.191L-0.294,0.405L-0.182,0.059L-0.476,-0.155L-0.112,-0.155Z'"},"fill":{"signal":"datum.value==='SPEA2+ASF' ? '#0000FF' : 'transparent'"}}}}}}}},
{"mark":{"type":"point","filled":false,"strokeWidth":1,"opacity":1,"size":36},"encoding":{
"x":{"field":"x","type":"quantitative","scale":{"domain":[0,800],"nice":false,"zero":false},"axis":{"orient":"top","labels":false,"title":null,"values":[0,100,200,300,400,500,600,700,800],"tickSize":-3,"minExtent":5.5,"maxExtent":5.5}},
"y":{"field":"y","type":"quantitative","scale":{"domain":[-4,0],"nice":false,"zero":false},"axis":{"orient":"right","labels":false,"title":null,"values":[-4,-3,-2,-1,0],"tickSize":-3,"minExtent":0,"maxExtent":0}},
"color":{"field":"s","type":"nominal","scale":{"domain":["SPEA2","MOEA/D","MOMOBI-II","NSGA-III","SPEA2+ASF"],"range":["#FF0000","#00FFFF","#00FF00","#FF00FF","#0000FF"]},
"legend":{"orient":"top-right","offset":8,"title":null,"fillColor":"white","strokeColor":"#262626","padding":5,"labelFont":"Liberation Sans","labelFontSize":10.5,"labelColor":"#000","rowPadding":1,"symbolSize":169,"symbolType":"M-1.54,0L1.54,0","symbolStrokeWidth":1,"labelOffset":6,"labelLimit":200,
"encode":{"symbols":{"update":{"shape":{"signal":"datum.value==='SPEA2' ? 'M-1.54,0L1.54,0M-0.34,-0.34L0.34,-0.34L0.34,0.34L-0.34,0.34Z' : datum.value==='MOEA/D' ? 'M-1.54,0L1.54,0M0,-0.46L0,0.46' : datum.value==='MOMOBI-II' ? 'M-1.54,0L1.54,0M0,-0.46L0,0.46M-0.33,-0.33L0.33,0.33M-0.33,0.33L0.33,-0.33' : datum.value==='NSGA-III' ? 'M-1.54,0L1.54,0M0,-0.46L0.31,0L0,0.46L-0.31,0Z' : 'M-1.54,0L1.54,0M0,-0.5L0.112,-0.155L0.476,-0.155L0.182,0.059L0.294,0.405L0,0.191L-0.294,0.405L-0.182,0.059L-0.476,-0.155L-0.112,-0.155Z'"},"fill":{"signal":"datum.value==='SPEA2+ASF' ? '#0000FF' : 'transparent'"}}}}}},
"shape":{"field":"s","type":"nominal","scale":{"domain":["SPEA2+ASF","NSGA-III","MOMOBI-II","MOEA/D","SPEA2"],"range":["M0,-1.07L0.24,-0.33L1.02,-0.33L0.39,0.126L0.63,0.866L0,0.41L-0.63,0.866L-0.39,0.126L-1.02,-0.33L-0.24,-0.33Z","M0,-0.95L0.65,0L0,0.95L-0.65,0Z","M-0.9,0L0.9,0M0,-0.9L0,0.9M-0.64,-0.64L0.64,0.64M-0.64,0.64L0.64,-0.64","M-1,0L1,0M0,-1L0,1","M-0.67,-0.67L0.67,-0.67L0.67,0.67L-0.67,0.67Z"]},"legend":null}}},
{"transform":[{"filter":"datum.s==='SPEA2+ASF'"}],"mark":{"type":"point","filled":true,"opacity":1,"size":36,"color":"#0000FF","stroke":"#0000FF","strokeWidth":0.5,"shape":"M0,-1.07L0.24,-0.33L1.02,-0.33L0.39,0.126L0.63,0.866L0,0.41L-0.63,0.866L-0.39,0.126L-1.02,-0.33L-0.24,-0.33Z"},"encoding":{
"x":{"field":"x","type":"quantitative","scale":{"domain":[0,800],"nice":false,"zero":false},"axis":{"orient":"bottom","domain":false,"ticks":false,"labels":false,"grid":false,"title":"DTLZ1","titleFont":"Liberation Serif","titleFontSize":23,"titleFontWeight":"normal","titleAngle":0,"titleAlign":"left","titleBaseline":"alphabetic","titleX":109,"titleY":66,"minExtent":0,"maxExtent":0}},
"y":{"field":"y","type":"quantitative","scale":{"domain":[-4,0],"nice":false,"zero":false},"axis":{"orient":"left","domain":false,"ticks":false,"labels":false,"grid":false,"title":"(a)","titleFont":"Liberation Serif","titleFontSize":23,"titleFontWeight":"bold","titleAngle":0,"titleAlign":"left","titleBaseline":"alphabetic","titleX":68,"titleY":279,"minExtent":0,"maxExtent":0}}}}
],
"resolve":{"axis":{"x":"independent","y":"independent"}}},
{"width":259,"height":214,
"transform":[{"filter":"datum.p==='b'"}],
"layer":[
{"mark":{"type":"line","strokeWidth":1},"encoding":{
"x":{"field":"x","type":"quantitative","scale":{"domain":[0,800],"nice":false,"zero":false},"axis":{"orient":"bottom","title":"GenMax","values":[0,100,200,300,400,500,600,700,800],"tickSize":-3,"labelPadding":10,"labelFlush":false,"labelOverlap":false,"minExtent":18,"maxExtent":18,"titlePadding":6}},
"y":{"field":"y","type":"quantitative","scale":{"domain":[-0.025,0],"nice":false,"zero":false,"range":[214,9]},"axis":{"orient":"left","title":"HV","values":[-0.025,-0.02,-0.015,-0.01,-0.005,0],"format":"~g","tickSize":-3,"labelPadding":8,"labelOverlap":false,"minExtent":35,"maxExtent":35,"titlePadding":5}},
"color":{"field":"s","type":"nominal","scale":{"domain":["SPEA2","MOEA/D","MOMOBI-II","NSGA-III","SPEA2+ASF"],"range":["#FF0000","#00FFFF","#00FF00","#FF00FF","#0000FF"]},"legend":null}}},
{"mark":{"type":"point","filled":false,"strokeWidth":1,"opacity":1,"size":36},"encoding":{
"x":{"field":"x","type":"quantitative","scale":{"domain":[0,800],"nice":false,"zero":false},"axis":{"orient":"top","labels":false,"title":null,"values":[0,100,200,300,400,500,600,700,800],"tickSize":-3,"offset":-9,"minExtent":0,"maxExtent":0}},
"y":{"field":"y","type":"quantitative","scale":{"domain":[-0.025,0],"nice":false,"zero":false,"range":[214,9]},"axis":{"orient":"right","labels":false,"title":null,"values":[-0.025,-0.02,-0.015,-0.01,-0.005,0],"tickSize":-3,"minExtent":0,"maxExtent":0}},
"color":{"field":"s","type":"nominal","scale":{"domain":["SPEA2","MOEA/D","MOMOBI-II","NSGA-III","SPEA2+ASF"],"range":["#FF0000","#00FFFF","#00FF00","#FF00FF","#0000FF"]},"legend":null},
"shape":{"field":"s","type":"nominal","scale":{"domain":["SPEA2","MOEA/D","MOMOBI-II","NSGA-III","SPEA2+ASF"],"range":["M-0.67,-0.67L0.67,-0.67L0.67,0.67L-0.67,0.67Z","M-1,0L1,0M0,-1L0,1","M-0.9,0L0.9,0M0,-0.9L0,0.9M-0.64,-0.64L0.64,0.64M-0.64,0.64L0.64,-0.64","M0,-0.95L0.65,0L0,0.95L-0.65,0Z","M0,-1.07L0.24,-0.33L1.02,-0.33L0.39,0.126L0.63,0.866L0,0.41L-0.63,0.866L-0.39,0.126L-1.02,-0.33L-0.24,-0.33Z"]},"legend":null}}},
{"transform":[{"filter":"datum.s==='SPEA2+ASF'"}],"mark":{"type":"point","filled":true,"opacity":1,"size":36,"color":"#0000FF","stroke":"#0000FF","strokeWidth":0.5,"shape":"M0,-1.07L0.24,-0.33L1.02,-0.33L0.39,0.126L0.63,0.866L0,0.41L-0.63,0.866L-0.39,0.126L-1.02,-0.33L-0.24,-0.33Z"},"encoding":{
"x":{"field":"x","type":"quantitative","scale":{"domain":[0,800],"nice":false,"zero":false},"axis":{"orient":"bottom","domain":false,"ticks":false,"labels":false,"grid":false,"title":"DTLZ2","titleFont":"Liberation Serif","titleFontSize":23,"titleFontWeight":"normal","titleAngle":0,"titleAlign":"left","titleBaseline":"alphabetic","titleX":88,"titleY":65,"minExtent":0,"maxExtent":0}},
"y":{"field":"y","type":"quantitative","scale":{"domain":[-0.025,0],"nice":false,"zero":false,"range":[214,9]},"axis":{"orient":"left","domain":false,"ticks":false,"labels":false,"grid":false,"title":"(b)","titleFont":"Liberation Serif","titleFontSize":23,"titleFontWeight":"bold","titleAngle":0,"titleAlign":"left","titleBaseline":"alphabetic","titleX":47,"titleY":279,"minExtent":0,"maxExtent":0}}}}
],
"resolve":{"axis":{"x":"independent","y":"independent"}}},
{"width":259,"height":214,
"transform":[{"filter":"datum.p==='c'"}],
"layer":[
{"mark":{"type":"line","strokeWidth":1},"encoding":{
"x":{"field":"x","type":"quantitative","scale":{"domain":[0,800],"nice":false,"zero":false},"axis":{"orient":"bottom","title":"GenMax","values":[0,100,200,300,400,500,600,700,800],"tickSize":-3,"labelPadding":10,"labelFlush":false,"labelOverlap":false,"minExtent":18,"maxExtent":18,"titlePadding":6}},
"y":{"field":"y","type":"quantitative","scale":{"domain":[-0.03,0],"nice":false,"zero":false,"range":[214,9]},"axis":{"orient":"left","title":"HV","values":[-0.03,-0.025,-0.02,-0.015,-0.01,-0.005,0],"format":"~g","tickSize":-3,"labelPadding":8,"labelOverlap":false,"minExtent":36,"maxExtent":36,"titlePadding":5}},
"color":{"field":"s","type":"nominal","scale":{"domain":["SPEA2","MOEA/D","MOMOBI-II","NSGA-III","SPEA2+ASF"],"range":["#FF0000","#00FFFF","#00FF00","#FF00FF","#0000FF"]},"legend":null}}},
{"mark":{"type":"point","filled":false,"strokeWidth":1,"opacity":1,"size":36},"encoding":{
"x":{"field":"x","type":"quantitative","scale":{"domain":[0,800],"nice":false,"zero":false},"axis":{"orient":"top","labels":false,"title":null,"values":[0,100,200,300,400,500,600,700,800],"tickSize":-3,"offset":-9,"minExtent":0,"maxExtent":0}},
"y":{"field":"y","type":"quantitative","scale":{"domain":[-0.03,0],"nice":false,"zero":false,"range":[214,9]},"axis":{"orient":"right","labels":false,"title":null,"values":[-0.03,-0.025,-0.02,-0.015,-0.01,-0.005,0],"tickSize":-3,"minExtent":0,"maxExtent":0}},
"color":{"field":"s","type":"nominal","scale":{"domain":["SPEA2","MOEA/D","MOMOBI-II","NSGA-III","SPEA2+ASF"],"range":["#FF0000","#00FFFF","#00FF00","#FF00FF","#0000FF"]},"legend":null},
"shape":{"field":"s","type":"nominal","scale":{"domain":["SPEA2","MOEA/D","MOMOBI-II","NSGA-III","SPEA2+ASF"],"range":["M-0.67,-0.67L0.67,-0.67L0.67,0.67L-0.67,0.67Z","M-1,0L1,0M0,-1L0,1","M-0.9,0L0.9,0M0,-0.9L0,0.9M-0.64,-0.64L0.64,0.64M-0.64,0.64L0.64,-0.64","M0,-0.95L0.65,0L0,0.95L-0.65,0Z","M0,-1.07L0.24,-0.33L1.02,-0.33L0.39,0.126L0.63,0.866L0,0.41L-0.63,0.866L-0.39,0.126L-1.02,-0.33L-0.24,-0.33Z"]},"legend":null}}},
{"transform":[{"filter":"datum.s==='SPEA2+ASF'"}],"mark":{"type":"point","filled":true,"opacity":1,"size":36,"color":"#0000FF","stroke":"#0000FF","strokeWidth":0.5,"shape":"M0,-1.07L0.24,-0.33L1.02,-0.33L0.39,0.126L0.63,0.866L0,0.41L-0.63,0.866L-0.39,0.126L-1.02,-0.33L-0.24,-0.33Z"},"encoding":{
"x":{"field":"x","type":"quantitative","scale":{"domain":[0,800],"nice":false,"zero":false},"axis":{"orient":"bottom","domain":false,"ticks":false,"labels":false,"grid":false,"title":"DTLZ4","titleFont":"Liberation Serif","titleFontSize":23,"titleFontWeight":"normal","titleAngle":0,"titleAlign":"left","titleBaseline":"alphabetic","titleX":91,"titleY":65,"minExtent":0,"maxExtent":0}},
"y":{"field":"y","type":"quantitative","scale":{"domain":[-0.03,0],"nice":false,"zero":false,"range":[214,9]},"axis":{"orient":"left","domain":false,"ticks":false,"labels":false,"grid":false,"title":"(c)","titleFont":"Liberation Serif","titleFontSize":23,"titleFontWeight":"bold","titleAngle":0,"titleAlign":"left","titleBaseline":"alphabetic","titleX":50,"titleY":279,"minExtent":0,"maxExtent":0}}}}
],
"resolve":{"axis":{"x":"independent","y":"independent"}}},
{"width":266,"height":214,
"transform":[{"filter":"datum.p==='d'"}],
"layer":[
{"mark":{"type":"line","strokeWidth":1},"encoding":{
"x":{"field":"x","type":"quantitative","scale":{"domain":[0,800],"nice":false,"zero":false},"axis":{"orient":"bottom","title":"GenMax","values":[0,100,200,300,400,500,600,700,800],"tickSize":-3,"labelPadding":10,"labelFlush":false,"labelOverlap":false,"minExtent":18,"maxExtent":18,"titlePadding":6}},
"y":{"field":"y","type":"quantitative","scale":{"domain":[-0.16,0],"nice":false,"zero":false,"range":[214,9]},"axis":{"orient":"left","title":"HV","values":[-0.15,-0.1,-0.05,0],"format":"~g","tickSize":-3,"labelPadding":8,"labelOverlap":false,"minExtent":29.5,"maxExtent":29.5,"titlePadding":5}},
"color":{"field":"s","type":"nominal","scale":{"domain":["SPEA2","MOEA/D","MOMOBI-II","NSGA-III","SPEA2+ASF"],"range":["#FF0000","#00FFFF","#00FF00","#FF00FF","#0000FF"]},"legend":null}}},
{"mark":{"type":"point","filled":false,"strokeWidth":1,"opacity":1,"size":36},"encoding":{
"x":{"field":"x","type":"quantitative","scale":{"domain":[0,800],"nice":false,"zero":false},"axis":{"orient":"top","labels":false,"title":null,"values":[0,100,200,300,400,500,600,700,800],"tickSize":-3,"offset":-9,"minExtent":0,"maxExtent":0}},
"y":{"field":"y","type":"quantitative","scale":{"domain":[-0.16,0],"nice":false,"zero":false,"range":[214,9]},"axis":{"orient":"right","labels":false,"title":null,"values":[-0.15,-0.1,-0.05,0],"tickSize":-3,"minExtent":0,"maxExtent":0}},
"color":{"field":"s","type":"nominal","scale":{"domain":["SPEA2","MOEA/D","MOMOBI-II","NSGA-III","SPEA2+ASF"],"range":["#FF0000","#00FFFF","#00FF00","#FF00FF","#0000FF"]},"legend":null},
"shape":{"field":"s","type":"nominal","scale":{"domain":["SPEA2","MOEA/D","MOMOBI-II","NSGA-III","SPEA2+ASF"],"range":["M-0.67,-0.67L0.67,-0.67L0.67,0.67L-0.67,0.67Z","M-1,0L1,0M0,-1L0,1","M-0.9,0L0.9,0M0,-0.9L0,0.9M-0.64,-0.64L0.64,0.64M-0.64,0.64L0.64,-0.64","M0,-0.95L0.65,0L0,0.95L-0.65,0Z","M0,-1.07L0.24,-0.33L1.02,-0.33L0.39,0.126L0.63,0.866L0,0.41L-0.63,0.866L-0.39,0.126L-1.02,-0.33L-0.24,-0.33Z"]},"legend":null}}},
{"transform":[{"filter":"datum.s==='SPEA2+ASF'"}],"mark":{"type":"point","filled":true,"opacity":1,"size":36,"color":"#0000FF","stroke":"#0000FF","strokeWidth":0.5,"shape":"M0,-1.07L0.24,-0.33L1.02,-0.33L0.39,0.126L0.63,0.866L0,0.41L-0.63,0.866L-0.39,0.126L-1.02,-0.33L-0.24,-0.33Z"},"encoding":{
"x":{"field":"x","type":"quantitative","scale":{"domain":[0,800],"nice":false,"zero":false},"axis":{"orient":"bottom","domain":false,"ticks":false,"labels":false,"grid":false,"title":"WFG2","titleFont":"Liberation Serif","titleFontSize":23,"titleFontWeight":"normal","titleAngle":0,"titleAlign":"left","titleBaseline":"alphabetic","titleX":92,"titleY":65,"minExtent":0,"maxExtent":0}},
"y":{"field":"y","type":"quantitative","scale":{"domain":[-0.16,0],"nice":false,"zero":false,"range":[214,9]},"axis":{"orient":"left","domain":false,"ticks":false,"labels":false,"grid":false,"title":"(d)","titleFont":"Liberation Serif","titleFontSize":23,"titleFontWeight":"bold","titleAngle":0,"titleAlign":"left","titleBaseline":"alphabetic","titleX":52,"titleY":279,"minExtent":0,"maxExtent":0}}}}
],
"resolve":{"axis":{"x":"independent","y":"independent"}}}
]},
{"spacing":7,
"resolve":{"scale":{"color":"independent","shape":"independent"},"legend":{"color":"independent","shape":"independent"}},
"hconcat":[
{"width":280,"height":206,
"transform":[{"filter":"datum.p==='e'"}],
"layer":[
{"mark":{"type":"line","strokeWidth":1},"encoding":{
"x":{"field":"x","type":"quantitative","scale":{"domain":[0,800],"nice":false,"zero":false,"range":[14,280]},"axis":{"orient":"bottom","title":"GenMax","values":[0,100,200,300,400,500,600,700,800],"tickSize":-3,"labelPadding":10,"labelFlush":false,"labelOverlap":false,"minExtent":18,"maxExtent":18,"titlePadding":6}},
"y":{"field":"y","type":"quantitative","scale":{"domain":[-0.45,-0.05],"nice":false,"zero":false},"axis":{"orient":"left","offset":-14,"title":"HV","values":[-0.45,-0.4,-0.35,-0.3,-0.25,-0.2,-0.15,-0.1],"format":"~g","tickSize":-3,"labelPadding":8,"labelOverlap":false,"minExtent":29,"maxExtent":29,"titlePadding":5}},
"color":{"field":"s","type":"nominal","scale":{"domain":["SPEA2","MOEA/D","MOMOBI-II","NSGA-III","SPEA2+ASF"],"range":["#FF0000","#00FFFF","#00FF00","#FF00FF","#0000FF"]},"legend":null}}},
{"mark":{"type":"point","filled":false,"strokeWidth":1,"opacity":1,"size":36},"encoding":{
"x":{"field":"x","type":"quantitative","scale":{"domain":[0,800],"nice":false,"zero":false,"range":[14,280]},"axis":{"orient":"top","labels":false,"title":null,"values":[0,100,200,300,400,500,600,700,800],"tickSize":-3,"minExtent":5.5,"maxExtent":5.5}},
"y":{"field":"y","type":"quantitative","scale":{"domain":[-0.45,-0.05],"nice":false,"zero":false},"axis":{"orient":"right","labels":false,"title":null,"values":[-0.45,-0.4,-0.35,-0.3,-0.25,-0.2,-0.15,-0.1],"tickSize":-3,"minExtent":0,"maxExtent":0}},
"color":{"field":"s","type":"nominal","scale":{"domain":["SPEA2","MOEA/D","MOMOBI-II","NSGA-III","SPEA2+ASF"],"range":["#FF0000","#00FFFF","#00FF00","#FF00FF","#0000FF"]},"legend":null},
"shape":{"field":"s","type":"nominal","scale":{"domain":["SPEA2","MOEA/D","MOMOBI-II","NSGA-III","SPEA2+ASF"],"range":["M-0.67,-0.67L0.67,-0.67L0.67,0.67L-0.67,0.67Z","M-1,0L1,0M0,-1L0,1","M-0.9,0L0.9,0M0,-0.9L0,0.9M-0.64,-0.64L0.64,0.64M-0.64,0.64L0.64,-0.64","M0,-0.95L0.65,0L0,0.95L-0.65,0Z","M0,-1.07L0.24,-0.33L1.02,-0.33L0.39,0.126L0.63,0.866L0,0.41L-0.63,0.866L-0.39,0.126L-1.02,-0.33L-0.24,-0.33Z"]},"legend":null}}},
{"transform":[{"filter":"datum.s==='SPEA2+ASF'"}],"mark":{"type":"point","filled":true,"opacity":1,"size":36,"color":"#0000FF","stroke":"#0000FF","strokeWidth":0.5,"shape":"M0,-1.07L0.24,-0.33L1.02,-0.33L0.39,0.126L0.63,0.866L0,0.41L-0.63,0.866L-0.39,0.126L-1.02,-0.33L-0.24,-0.33Z"},"encoding":{
"x":{"field":"x","type":"quantitative","scale":{"domain":[0,800],"nice":false,"zero":false,"range":[14,280]},"axis":{"orient":"bottom","domain":false,"ticks":false,"labels":false,"grid":false,"title":"WFG4","titleFont":"Liberation Serif","titleFontSize":23,"titleFontWeight":"normal","titleAngle":0,"titleAlign":"left","titleBaseline":"alphabetic","titleX":112,"titleY":60,"minExtent":0,"maxExtent":0}},
"y":{"field":"y","type":"quantitative","scale":{"domain":[-0.45,-0.05],"nice":false,"zero":false},"axis":{"orient":"left","domain":false,"ticks":false,"labels":false,"grid":false,"title":"(e)","titleFont":"Liberation Serif","titleFontSize":23,"titleFontWeight":"bold","titleAngle":0,"titleAlign":"left","titleBaseline":"alphabetic","titleX":74,"titleY":266,"minExtent":0,"maxExtent":0}}}}
],
"resolve":{"axis":{"x":"independent","y":"independent"}}},
{"width":266,"height":206,
"transform":[{"filter":"datum.p==='f'"}],
"layer":[
{"mark":{"type":"line","strokeWidth":1},"encoding":{
"x":{"field":"x","type":"quantitative","scale":{"domain":[0,800],"nice":false,"zero":false},"axis":{"orient":"bottom","title":"GenMax","values":[0,100,200,300,400,500,600,700,800],"tickSize":-3,"labelPadding":10,"labelFlush":false,"labelOverlap":false,"minExtent":18,"maxExtent":18,"titlePadding":6}},
"y":{"field":"y","type":"quantitative","scale":{"domain":[-0.45,-0.05],"nice":false,"zero":false},"axis":{"orient":"left","title":"HV","values":[-0.45,-0.4,-0.35,-0.3,-0.25,-0.2,-0.15,-0.1],"format":"~g","tickSize":-3,"labelPadding":8,"labelOverlap":false,"minExtent":28.5,"maxExtent":28.5,"titlePadding":5}},
"color":{"field":"s","type":"nominal","scale":{"domain":["SPEA2","MOEA/D","MOMOBI-II","NSGA-III","SPEA2+ASF"],"range":["#FF0000","#00FFFF","#00FF00","#FF00FF","#0000FF"]},"legend":null}}},
{"mark":{"type":"point","filled":false,"strokeWidth":1,"opacity":1,"size":36},"encoding":{
"x":{"field":"x","type":"quantitative","scale":{"domain":[0,800],"nice":false,"zero":false},"axis":{"orient":"top","labels":false,"title":null,"values":[0,100,200,300,400,500,600,700,800],"tickSize":-3,"minExtent":5.5,"maxExtent":5.5}},
"y":{"field":"y","type":"quantitative","scale":{"domain":[-0.45,-0.05],"nice":false,"zero":false},"axis":{"orient":"right","labels":false,"title":null,"values":[-0.45,-0.4,-0.35,-0.3,-0.25,-0.2,-0.15,-0.1],"tickSize":-3,"minExtent":0,"maxExtent":0}},
"color":{"field":"s","type":"nominal","scale":{"domain":["SPEA2","MOEA/D","MOMOBI-II","NSGA-III","SPEA2+ASF"],"range":["#FF0000","#00FFFF","#00FF00","#FF00FF","#0000FF"]},"legend":null},
"shape":{"field":"s","type":"nominal","scale":{"domain":["SPEA2","MOEA/D","MOMOBI-II","NSGA-III","SPEA2+ASF"],"range":["M-0.67,-0.67L0.67,-0.67L0.67,0.67L-0.67,0.67Z","M-1,0L1,0M0,-1L0,1","M-0.9,0L0.9,0M0,-0.9L0,0.9M-0.64,-0.64L0.64,0.64M-0.64,0.64L0.64,-0.64","M0,-0.95L0.65,0L0,0.95L-0.65,0Z","M0,-1.07L0.24,-0.33L1.02,-0.33L0.39,0.126L0.63,0.866L0,0.41L-0.63,0.866L-0.39,0.126L-1.02,-0.33L-0.24,-0.33Z"]},"legend":null}}},
{"transform":[{"filter":"datum.s==='SPEA2+ASF'"}],"mark":{"type":"point","filled":true,"opacity":1,"size":36,"color":"#0000FF","stroke":"#0000FF","strokeWidth":0.5,"shape":"M0,-1.07L0.24,-0.33L1.02,-0.33L0.39,0.126L0.63,0.866L0,0.41L-0.63,0.866L-0.39,0.126L-1.02,-0.33L-0.24,-0.33Z"},"encoding":{
"x":{"field":"x","type":"quantitative","scale":{"domain":[0,800],"nice":false,"zero":false},"axis":{"orient":"bottom","domain":false,"ticks":false,"labels":false,"grid":false,"title":"WFG5","titleFont":"Liberation Serif","titleFontSize":23,"titleFontWeight":"normal","titleAngle":0,"titleAlign":"left","titleBaseline":"alphabetic","titleX":93,"titleY":60,"minExtent":0,"maxExtent":0}},
"y":{"field":"y","type":"quantitative","scale":{"domain":[-0.45,-0.05],"nice":false,"zero":false},"axis":{"orient":"left","domain":false,"ticks":false,"labels":false,"grid":false,"title":"(f)","titleFont":"Liberation Serif","titleFontSize":23,"titleFontWeight":"bold","titleAngle":0,"titleAlign":"left","titleBaseline":"alphabetic","titleX":63,"titleY":266,"minExtent":0,"maxExtent":0}}}}
],
"resolve":{"axis":{"x":"independent","y":"independent"}}},
{"width":271,"height":206,
"transform":[{"filter":"datum.p==='g'"}],
"layer":[
{"mark":{"type":"line","strokeWidth":1},"encoding":{
"x":{"field":"x","type":"quantitative","scale":{"domain":[0,800],"nice":false,"zero":false},"axis":{"orient":"bottom","title":"GenMax","values":[0,100,200,300,400,500,600,700,800],"tickSize":-3,"labelPadding":10,"labelFlush":false,"labelOverlap":false,"minExtent":18,"maxExtent":18,"titlePadding":6}},
"y":{"field":"y","type":"quantitative","scale":{"domain":[-0.5,0],"nice":false,"zero":false},"axis":{"orient":"left","title":"HV","values":[-0.5,-0.4,-0.3,-0.2,-0.1,0],"format":"~g","tickSize":-3,"labelPadding":8,"labelOverlap":false,"minExtent":24,"maxExtent":24,"titlePadding":5}},
"color":{"field":"s","type":"nominal","scale":{"domain":["SPEA2","MOEA/D","MOMOBI-II","NSGA-III","SPEA2+ASF"],"range":["#FF0000","#00FFFF","#00FF00","#FF00FF","#0000FF"]},"legend":null}}},
{"mark":{"type":"point","filled":false,"strokeWidth":1,"opacity":1,"size":36},"encoding":{
"x":{"field":"x","type":"quantitative","scale":{"domain":[0,800],"nice":false,"zero":false},"axis":{"orient":"top","labels":false,"title":null,"values":[0,100,200,300,400,500,600,700,800],"tickSize":-3,"minExtent":5.5,"maxExtent":5.5}},
"y":{"field":"y","type":"quantitative","scale":{"domain":[-0.5,0],"nice":false,"zero":false},"axis":{"orient":"right","labels":false,"title":null,"values":[-0.5,-0.4,-0.3,-0.2,-0.1,0],"tickSize":-3,"minExtent":0,"maxExtent":0}},
"color":{"field":"s","type":"nominal","scale":{"domain":["SPEA2","MOEA/D","MOMOBI-II","NSGA-III","SPEA2+ASF"],"range":["#FF0000","#00FFFF","#00FF00","#FF00FF","#0000FF"]},"legend":null},
"shape":{"field":"s","type":"nominal","scale":{"domain":["SPEA2","MOEA/D","MOMOBI-II","NSGA-III","SPEA2+ASF"],"range":["M-0.67,-0.67L0.67,-0.67L0.67,0.67L-0.67,0.67Z","M-1,0L1,0M0,-1L0,1","M-0.9,0L0.9,0M0,-0.9L0,0.9M-0.64,-0.64L0.64,0.64M-0.64,0.64L0.64,-0.64","M0,-0.95L0.65,0L0,0.95L-0.65,0Z","M0,-1.07L0.24,-0.33L1.02,-0.33L0.39,0.126L0.63,0.866L0,0.41L-0.63,0.866L-0.39,0.126L-1.02,-0.33L-0.24,-0.33Z"]},"legend":null}}},
{"transform":[{"filter":"datum.s==='SPEA2+ASF'"}],"mark":{"type":"point","filled":true,"opacity":1,"size":36,"color":"#0000FF","stroke":"#0000FF","strokeWidth":0.5,"shape":"M0,-1.07L0.24,-0.33L1.02,-0.33L0.39,0.126L0.63,0.866L0,0.41L-0.63,0.866L-0.39,0.126L-1.02,-0.33L-0.24,-0.33Z"},"encoding":{
"x":{"field":"x","type":"quantitative","scale":{"domain":[0,800],"nice":false,"zero":false},"axis":{"orient":"bottom","domain":false,"ticks":false,"labels":false,"grid":false,"title":"WFG6","titleFont":"Liberation Serif","titleFontSize":23,"titleFontWeight":"normal","titleAngle":0,"titleAlign":"left","titleBaseline":"alphabetic","titleX":104,"titleY":60,"minExtent":0,"maxExtent":0}},
"y":{"field":"y","type":"quantitative","scale":{"domain":[-0.5,0],"nice":false,"zero":false},"axis":{"orient":"left","domain":false,"ticks":false,"labels":false,"grid":false,"title":"(g)","titleFont":"Liberation Serif","titleFontSize":23,"titleFontWeight":"bold","titleAngle":0,"titleAlign":"left","titleBaseline":"alphabetic","titleX":64,"titleY":266,"minExtent":0,"maxExtent":0}}}}
],
"resolve":{"axis":{"x":"independent","y":"independent"}}},
{"width":266,"height":206,
"transform":[{"filter":"datum.p==='h'"}],
"layer":[
{"mark":{"type":"line","strokeWidth":1},"encoding":{
"x":{"field":"x","type":"quantitative","scale":{"domain":[0,800],"nice":false,"zero":false},"axis":{"orient":"bottom","title":"GenMax","values":[0,100,200,300,400,500,600,700,800],"tickSize":-3,"labelPadding":10,"labelFlush":false,"labelOverlap":false,"minExtent":18,"maxExtent":18,"titlePadding":6}},
"y":{"field":"y","type":"quantitative","scale":{"domain":[-0.5,-0.15],"nice":false,"zero":false},"axis":{"orient":"left","title":"HV","values":[-0.5,-0.45,-0.4,-0.35,-0.3,-0.25,-0.2,-0.15],"format":"~g","tickSize":-3,"labelPadding":8,"labelOverlap":false,"minExtent":29.5,"maxExtent":29.5,"titlePadding":5}},
"color":{"field":"s","type":"nominal","scale":{"domain":["SPEA2","MOEA/D","MOMOBI-II","NSGA-III","SPEA2+ASF"],"range":["#FF0000","#00FFFF","#00FF00","#FF00FF","#0000FF"]},"legend":null}}},
{"mark":{"type":"point","filled":false,"strokeWidth":1,"opacity":1,"size":36},"encoding":{
"x":{"field":"x","type":"quantitative","scale":{"domain":[0,800],"nice":false,"zero":false},"axis":{"orient":"top","labels":false,"title":null,"values":[0,100,200,300,400,500,600,700,800],"tickSize":-3,"minExtent":5.5,"maxExtent":5.5}},
"y":{"field":"y","type":"quantitative","scale":{"domain":[-0.5,-0.15],"nice":false,"zero":false},"axis":{"orient":"right","labels":false,"title":null,"values":[-0.5,-0.45,-0.4,-0.35,-0.3,-0.25,-0.2,-0.15],"tickSize":-3,"minExtent":0,"maxExtent":0}},
"color":{"field":"s","type":"nominal","scale":{"domain":["SPEA2","MOEA/D","MOMOBI-II","NSGA-III","SPEA2+ASF"],"range":["#FF0000","#00FFFF","#00FF00","#FF00FF","#0000FF"]},"legend":null},
"shape":{"field":"s","type":"nominal","scale":{"domain":["SPEA2","MOEA/D","MOMOBI-II","NSGA-III","SPEA2+ASF"],"range":["M-0.67,-0.67L0.67,-0.67L0.67,0.67L-0.67,0.67Z","M-1,0L1,0M0,-1L0,1","M-0.9,0L0.9,0M0,-0.9L0,0.9M-0.64,-0.64L0.64,0.64M-0.64,0.64L0.64,-0.64","M0,-0.95L0.65,0L0,0.95L-0.65,0Z","M0,-1.07L0.24,-0.33L1.02,-0.33L0.39,0.126L0.63,0.866L0,0.41L-0.63,0.866L-0.39,0.126L-1.02,-0.33L-0.24,-0.33Z"]},"legend":null}}},
{"transform":[{"filter":"datum.s==='SPEA2+ASF'"}],"mark":{"type":"point","filled":true,"opacity":1,"size":36,"color":"#0000FF","stroke":"#0000FF","strokeWidth":0.5,"shape":"M0,-1.07L0.24,-0.33L1.02,-0.33L0.39,0.126L0.63,0.866L0,0.41L-0.63,0.866L-0.39,0.126L-1.02,-0.33L-0.24,-0.33Z"},"encoding":{
"x":{"field":"x","type":"quantitative","scale":{"domain":[0,800],"nice":false,"zero":false},"axis":{"orient":"bottom","domain":false,"ticks":false,"labels":false,"grid":false,"title":"WFG9","titleFont":"Liberation Serif","titleFontSize":23,"titleFontWeight":"normal","titleAngle":0,"titleAlign":"left","titleBaseline":"alphabetic","titleX":109,"titleY":60,"minExtent":0,"maxExtent":0}},
"y":{"field":"y","type":"quantitative","scale":{"domain":[-0.5,-0.15],"nice":false,"zero":false},"axis":{"orient":"left","domain":false,"ticks":false,"labels":false,"grid":false,"title":"(h)","titleFont":"Liberation Serif","titleFontSize":23,"titleFontWeight":"bold","titleAngle":0,"titleAlign":"left","titleBaseline":"alphabetic","titleX":70,"titleY":266,"minExtent":0,"maxExtent":0}}}}
],
"resolve":{"axis":{"x":"independent","y":"independent"}}}
]}
],
"config":{
"font":"Liberation Sans",
"locale":{"number":{"decimal":".","thousands":",","grouping":[3],"currency":["$",""],"minus":"-"}},
"view":{"stroke":null},
"axis":{"labelFont":"Liberation Sans","labelFontSize":11,"labelColor":"#000","titleFont":"Liberation Sans","titleFontSize":11,"titleFontWeight":"normal","titleColor":"#000","domainColor":"#262626","tickColor":"#262626","domainWidth":1,"tickWidth":1,"grid":false}
}
}
